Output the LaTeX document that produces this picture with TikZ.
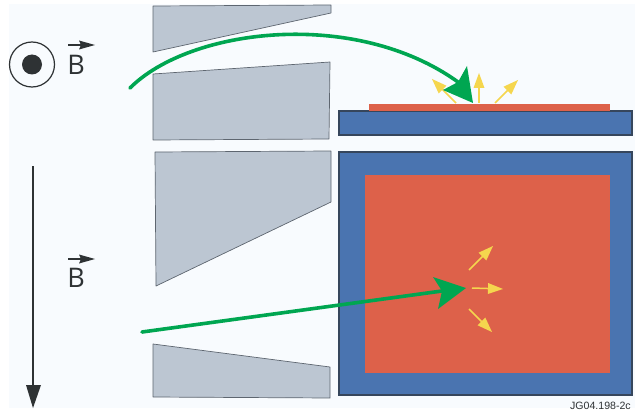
\documentclass[tikz,border=0pt]{standalone}
\usepackage{fontspec}
\setmainfont{Open Sans}
\newfontfamily\labelfont{Liberation Sans}
\definecolor{bgc}{HTML}{F8FBFE}
\definecolor{pole}{HTML}{BCC6D2}
\definecolor{poleedge}{HTML}{5E6670}
\definecolor{plate}{HTML}{4A74B0}
\definecolor{plateedge}{HTML}{36465C}
\definecolor{tile}{HTML}{DD614A}
\definecolor{ion}{HTML}{00A651}
\definecolor{spray}{HTML}{F5D64E}
\definecolor{ink}{HTML}{2E3234}
\tikzset{
  polewedge/.style={fill=pole,draw=poleedge,line width=0.7pt,line join=round},
  platebox/.style={fill=plate,draw=plateedge,line width=1.1pt},
  tilebox/.style={fill=tile,draw=none},
  ionline/.style={draw=ion,line width=3.6pt,line cap=round},
  ionhead/.style={fill=ion,draw=none},
  sprayline/.style={draw=spray,line width=1.5pt},
  sprayhead/.style={fill=spray,draw=none},
  fieldlabel/.style={inner sep=0pt,font=\fontsize{27}{27}\selectfont,text=ink},
  fieldline/.style={draw=ink,line width=1.7pt},
  inkfill/.style={fill=ink,draw=none}
}
% yellow arrow from #1 to #2
\newcommand{\sprayarrow}[2]{%
  \draw[sprayline] (#1) -- ($(#1)!0.6!(#2)$);
  \fill[sprayhead] (#2) -- ($(#2)!15pt!(#1)!5.5pt!90:(#1)$) -- ($(#2)!15pt!(#1)!5.5pt!-90:(#1)$) -- cycle;
}
\usetikzlibrary{calc}
\begin{document}
\begin{tikzpicture}[x=1pt,y=-1pt]
\useasboundingbox (0,0) rectangle (635,412);
\fill[white] (0,0) rectangle (635,412);
\fill[bgc] (9,4) rectangle (635,408);

% pole pieces
\draw[polewedge] (153,6) -- (331,5) -- (331,13) -- (153,52) -- cycle;
\draw[polewedge] (153,74) -- (330,62) -- (329,139) -- (153,140) -- cycle;
\draw[polewedge] (155,152) -- (331,151) -- (331,202) -- (156,286) -- cycle;
\draw[polewedge] (153,344) -- (330,367) -- (330,398) -- (153,397) -- cycle;

% target plates
\draw[platebox] (339,111) rectangle (632,135);
\draw[platebox] (339,152) rectangle (632,395);
\fill[tilebox] (369,104) rectangle (610,111);
\fill[tilebox] (365,175) rectangle (610,373);

% spray, side view
\coordinate (sa0) at (456,103); \coordinate (sa1) at (432,79);
\coordinate (sb0) at (479,103); \coordinate (sb1) at (479,73);
\coordinate (sc0) at (495,103); \coordinate (sc1) at (518,80);
\sprayarrow{sa0}{sa1}
\sprayarrow{sb0}{sb1}
\sprayarrow{sc0}{sc1}

% spray, front view
\coordinate (fa0) at (469,270); \coordinate (fa1) at (493,246);
\coordinate (fb0) at (472,288); \coordinate (fb1) at (503,289);
\coordinate (fc0) at (469,309); \coordinate (fc1) at (492,332);
\sprayarrow{fa0}{fa1}
\sprayarrow{fb0}{fb1}
\sprayarrow{fc0}{fc1}

% ion paths
\coordinate (ia0) at (130,88);
\coordinate (ia1) at (458,82);
\draw[ionline] (ia0) .. controls (190,28) and (355,8) .. (ia1);
\fill[ionhead] (473,103) -- (467,66) -- (458,82) -- (443,90) -- cycle;

\coordinate (ib0) at (142,332);
\coordinate (ib1) at (442,291);
\draw[ionline] (ib0) -- (ib1);
\fill[ionhead] (466,288) -- (433,277) -- (442,291) -- (438,309) -- cycle;

% field symbols
\node[circle,draw=ink,line width=1.2pt,minimum size=45pt,inner sep=0pt] (ring) at (32,64.5) {};
\fill[ink] (ring.center) circle (10pt);

\node[fieldlabel] (b1) at (76,65) {B};
\coordinate (b1a) at (68,45); \coordinate (b1b) at (84,45);
\draw[ink,line width=1.3pt] (b1a) -- (b1b);
\fill[inkfill] (95,45) -- (79,40.5) -- (81,45) -- (79,49.5) -- cycle;

\node[fieldlabel] (b2) at (76,278) {B};
\coordinate (b2a) at (68,259); \coordinate (b2b) at (84,259);
\draw[ink,line width=1.3pt] (b2a) -- (b2b);
\fill[inkfill] (95,259) -- (79,254.5) -- (81,259) -- (79,263.5) -- cycle;

\coordinate (fd0) at (33,166); \coordinate (fd1) at (33,386);
\draw[fieldline] (fd0) -- (fd1);
\fill[inkfill] (33,408) -- (26,385) -- (41,385) -- cycle;

\node[anchor=base east,inner sep=0pt,text=ink,font=\labelfont\fontsize{10.6}{10.6}\selectfont] (tag) at (631,409) {JG04.198-2c};
\end{tikzpicture}
\end{document}
